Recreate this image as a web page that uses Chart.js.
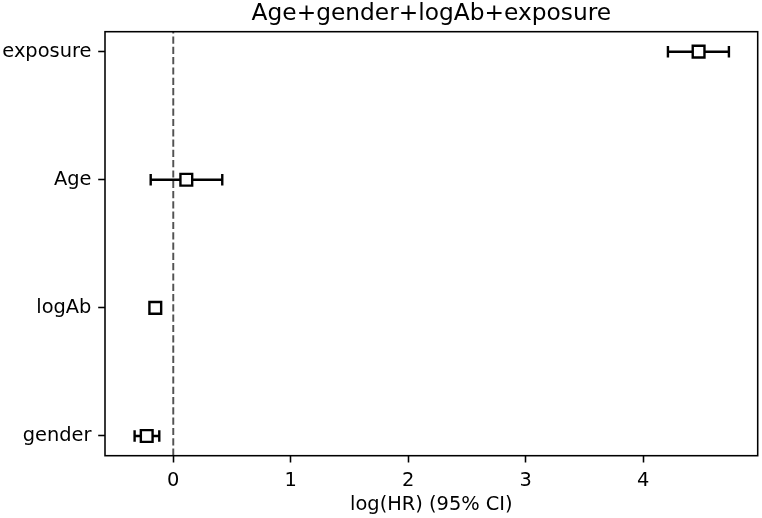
<!DOCTYPE html>
<html>
<head>
<meta charset="utf-8">
<script src="https://cdn.jsdelivr.net/npm/chart.js@4/dist/chart.umd.min.js"></script>
<style>
html,body{margin:0;padding:0;background:#fff;}
canvas{display:block;}
</style>
</head>
<body>
<canvas id="forest" width="762" height="518"></canvas>
<script>
// covariates, bottom to top
const labels=['gender','logAb','Age','exposure'];
const coef=[-0.226,-0.153,0.111,4.471];
const lower=[-0.329,-0.160,-0.192,4.210];
const upper=[-0.119,-0.146,0.417,4.729];
const xTicks=[0,1,2,3,4];
const xRange=[-0.581,4.974];
const yRange=[-0.154,3.156];
const title='Age+gender+logAb+exposure';
const xTitle='log(HR) (95% CI)';

const FONT="'DejaVu Sans',sans-serif";
Chart.defaults.font.family=FONT;
Chart.defaults.color='#000';

// target plot box (matplotlib axes)
const AREA={left:105,top:31.7,right:757.7,bottom:455.7};

const frame={
  id:'frame',
  beforeDatasetsDraw(ch){
    const a=ch.chartArea,ctx=ch.ctx;
    ctx.save();
    ctx.strokeStyle='#000';ctx.lineWidth=1.56;
    ctx.strokeRect(a.left,a.top,a.right-a.left,a.bottom-a.top);
    ctx.restore();
  },
  afterDraw(ch){
    const a=ch.chartArea,ctx=ch.ctx;
    ctx.save();
    ctx.fillStyle='#000';
    ctx.font=`23.3px ${FONT}`;
    ctx.textAlign='center';ctx.textBaseline='middle';
    ctx.fillText(title,(a.left+a.right)/2,14);
    ctx.restore();
  }
};

const datasets=[];
// squares
datasets.push({
  data:coef.map((v,i)=>({x:v,y:i})),
  pointStyle:'rect',pointRadius:8.3,pointHoverRadius:8.3,
  backgroundColor:'#fff',borderColor:'#000',borderWidth:2.4,
  showLine:false,order:0
});
// CI bars with caps
labels.forEach((l,i)=>{
  datasets.push({
    data:[{x:lower[i],y:i},{x:upper[i],y:i}],
    showLine:true,borderColor:'#000',borderWidth:2.4,
    pointStyle:'line',rotation:90,pointRadius:5.8,pointHoverRadius:5.8,
    pointBorderColor:'#000',pointBorderWidth:2.4,order:1
  });
});
// reference line at 0
datasets.push({
  data:[{x:0,y:yRange[0]},{x:0,y:yRange[1]}],
  showLine:true,borderColor:'rgba(0,0,0,0.68)',borderWidth:1.94,
  borderDash:[7.2,3.1],pointRadius:0,order:2
});

new Chart(document.getElementById('forest'),{
  type:'scatter',
  data:{datasets},
  options:{
    responsive:false,animation:false,
    layout:{autoPadding:false,padding:{top:AREA.top,right:762-AREA.right,left:0,bottom:0}},
    plugins:{legend:{display:false},tooltip:{enabled:false},title:{display:false}},
    scales:{
      x:{
        type:'linear',min:xRange[0],max:xRange[1],
        afterBuildTicks:s=>{s.ticks=xTicks.map(v=>({value:v}));},
        afterFit:s=>{s.height=518-AREA.bottom;s.paddingLeft=0;s.paddingRight=0;},
        border:{display:false},
        grid:{drawOnChartArea:false,drawTicks:true,tickLength:6.8,tickWidth:1.56,tickColor:'#000'},
        ticks:{font:{size:19.4},padding:6.8,color:'#000',maxRotation:0,callback:v=>String(v)},
        title:{display:true,text:xTitle,font:{size:19.4},color:'#000',padding:{top:1.4,bottom:1.4}}
      },
      y:{
        type:'linear',min:yRange[0],max:yRange[1],
        afterBuildTicks:s=>{s.ticks=labels.map((l,i)=>({value:i}));},
        afterFit:s=>{s.width=AREA.left;s.paddingTop=0;s.paddingBottom=0;},
        border:{display:false},
        grid:{drawOnChartArea:false,drawTicks:true,tickLength:6.8,tickWidth:1.56,tickColor:'#000'},
        ticks:{font:{size:19.4},padding:6.8,color:'#000',callback:v=>labels[v]??''}
      }
    }
  },
  plugins:[frame]
});
</script>
</body>
</html>
